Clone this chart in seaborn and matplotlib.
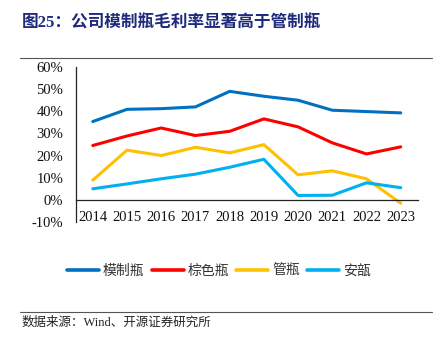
import matplotlib
matplotlib.use("Agg")
import matplotlib.pyplot as plt
import matplotlib.ticker as mticker
from matplotlib.lines import Line2D
import seaborn as sns
import pandas as pd

years = ["2014", "2015", "2016", "2017", "2018", "2019", "2020", "2021", "2022", "2023"]
moulded = [35.3, 40.8, 41.1, 41.9, 48.9, 46.7, 44.9, 40.4, 39.8, 39.2]
amber = [24.5, 28.8, 32.4, 29.0, 30.9, 36.5, 32.9, 25.7, 20.7, 23.9]
tubular = [8.9, 22.4, 20.0, 23.7, 21.2, 24.9, 11.3, 13.1, 9.5, -1.5]
ampoule = [5.0, 7.2, 9.5, 11.6, 14.7, 18.3, 2.0, 2.1, 7.7, 5.5]
series_names = ["模制瓶", "棕色瓶", "管瓶", "安瓿"]
colors = ["#0070C0", "#FF0000", "#FFC000", "#00B0F0"]

rows = []
for name, vals in zip(series_names, [moulded, amber, tubular, ampoule]):
    for i, v in enumerate(vals):
        rows.append({"idx": i, "value": v, "series": name})
df = pd.DataFrame(rows)

sns.set_theme(style="white")
plt.rcParams["font.family"] = ["Liberation Serif", "Noto Sans CJK SC", "DejaVu Sans"]

fig = plt.figure(figsize=(4.45, 3.37), dpi=100)
ax = fig.add_axes([0.170, 0.341, 0.769, 0.461])

sns.lineplot(data=df, x="idx", y="value", hue="series", hue_order=series_names,
             palette=colors, linewidth=2.2, ax=ax, legend=False)

ax.set_xlim(-0.5, len(years) - 0.5)
ax.set_ylim(-10, 60)
ax.yaxis.set_major_locator(mticker.MultipleLocator(10))
ax.yaxis.set_major_formatter(mticker.FuncFormatter(lambda v, p: f"{v:.0f}%"))

# boundaries between categories carry the tick marks, labels sit at centres
ax.set_xticks([i + 0.5 for i in range(len(years))], minor=False)
ax.set_xticklabels([])
ax.set_xticks(range(len(years)), minor=True)
ax.set_xticklabels(years, minor=True)
ax.tick_params(axis="x", which="major", direction="in", length=4, width=0.8, color="#222222")
ax.tick_params(axis="x", which="minor", length=0, pad=8, labelsize=10.5, labelcolor="#111111")
ax.tick_params(axis="y", direction="in", length=4, width=0.8, color="#222222",
               pad=9, labelsize=10.5, labelcolor="#111111")
for lab in ax.get_xticklabels(minor=True) + ax.get_yticklabels():
    lab.set_fontfamily("Liberation Serif")

ax.set_xlabel("")
ax.set_ylabel("")
for s in ["top", "right"]:
    ax.spines[s].set_visible(False)
ax.spines["bottom"].set_position(("data", 0))
ax.spines["bottom"].set_color("#222222")
ax.spines["bottom"].set_linewidth(0.9)
ax.spines["left"].set_color("#222222")
ax.spines["left"].set_linewidth(0.9)
ax.grid(False)

# legend
handles = [Line2D([0], [0], color=c, lw=2.6) for c in colors]
leg = fig.legend(handles, series_names, loc="center", bbox_to_anchor=(0.492, 0.195),
                 ncol=4, frameon=False, handlelength=2.3, handletextpad=0.3,
                 columnspacing=0.5, prop={"family": "Noto Sans CJK SC", "size": 10})
for t in leg.get_texts():
    t.set_color("#333333")

# title, rules and source note
fig.text(0.049, 0.932, "图25：公司模制瓶毛利率显著高于管制瓶", fontsize=12,
         fontweight="bold", color="#1F2A7C",
         family=["Liberation Serif", "Noto Sans CJK SC"], va="center")
fig.add_artist(Line2D([0.045, 0.971], [1 - 58 / 337] * 2, color="#555555", lw=0.8))
fig.add_artist(Line2D([0.045, 0.971], [1 - 312 / 337] * 2, color="#555555", lw=0.8))
fig.text(0.049, 1 - 323 / 337, "数据来源：Wind、开源证券研究所", fontsize=9,
         color="#222222", family=["Liberation Serif", "Noto Sans CJK SC"], va="center")

fig.savefig("out.png", dpi=100)
